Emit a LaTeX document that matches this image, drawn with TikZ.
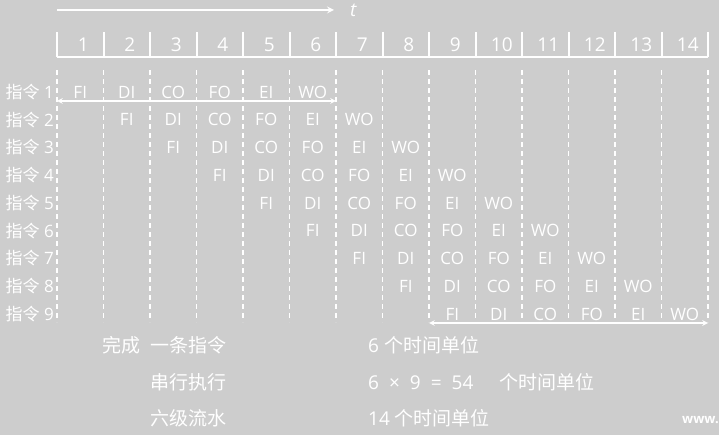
\documentclass[tikz,border=0pt]{standalone}
\usepackage{fontspec}
\setmainfont{Open Sans}
\newfontfamily\cjk{Noto Sans CJK SC}
\usetikzlibrary{arrows,positioning}
\definecolor{panel}{HTML}{CDCDCD}
\tikzstyle{period} = [text=white,inner sep=0,font=\fontsize{19}{19}\selectfont]
\tikzstyle{stage} = [text=white,inner sep=0,font=\fontsize{17}{17}\selectfont]
\tikzstyle{instr} = [text=white,inner sep=0,anchor=east,font=\fontsize{17}{17}\selectfont]
\tikzstyle{note} = [text=white,inner sep=0,font=\fontsize{19}{19}\selectfont]
\tikzstyle{bar} = [draw=white,line width=2pt]
\tikzstyle{slot} = [draw=white,line width=1.5pt,dash pattern=on 5pt off 4pt]
\tikzstyle{span} = [draw=white,line width=1.5pt,<->]

\begin{document}
\begin{tikzpicture}[x=1pt,y=-1pt,>=stealth]
	\fill[panel] (0,0) rectangle (719,435);
	\useasboundingbox (0,0) rectangle (719,435);

	% time axis
	\coordinate (t0) at (57,10);
	\coordinate (t1) at (334,10);
	\draw[bar,->] (t0) -- (t1);
	\node[note,font=\fontsize{19}{19}\selectfont\itshape] (tlab) [right=16pt of t1] {t};

	% clock periods
	\foreach \k in {0,...,14}{
		\coordinate (c\k) at (57+46.5*\k,57);
		\draw[bar] (c\k) -- ++(0,-25);
	}
	\draw[bar] (c0) -- (c14);
	\foreach \k in {1,...,14}
		\node[period] (p\k) at (36.75+46.5*\k,45) {\k};

	% dashed slots
	\foreach \k in {0,...,14}
		\draw[slot] (57+46.5*\k,70) -- (57+46.5*\k,322);

	% instructions and stages
	\foreach \i in {1,...,9}{
		\node[instr] (ins\i) at (54,64.25+27.75*\i) {{\cjk 指令} \i};
		\foreach \s [count=\j from 0] in {FI,DI,CO,FO,EI,WO}
			\node[stage] (st\i\j) at (33.75+46.5*\i+46.5*\j,64.25+27.75*\i) {\s};
	}

	% first and last instruction
	\coordinate (a0) at (57,101);
	\coordinate (a1) at (336,101);
	\draw[span] (a0) -- (a1);
	\coordinate (b0) at (429,323);
	\coordinate (b1) at (708,323);
	\draw[span] (b0) -- (b1);

	% totals
	\node[note,anchor=east] (done) at (227,345) {\cjk 完成\hspace{10pt}一条指令};
	\node[note,anchor=east] (serial) at (227,382) {\cjk 串行执行};
	\node[note,anchor=east] (flow) at (227,418) {\cjk 六级流水};
	\node[note,anchor=west] (once) at (368,345) {6 {\cjk 个时间单位}};
	\node[note,anchor=west] (total) at (368,382) {6\hspace{10pt}×\hspace{10pt}9\hspace{10pt}=\hspace{10pt}54\hspace{26pt}{\cjk 个时间单位}};
	\node[note,anchor=west] (steps) at (368,418) {14 {\cjk 个时间单位}};
	\node[text=white,inner sep=0,anchor=west,font=\bfseries\fontsize{13}{13}\selectfont] (www) at (682,420) {www.};
\end{tikzpicture}
\end{document}
